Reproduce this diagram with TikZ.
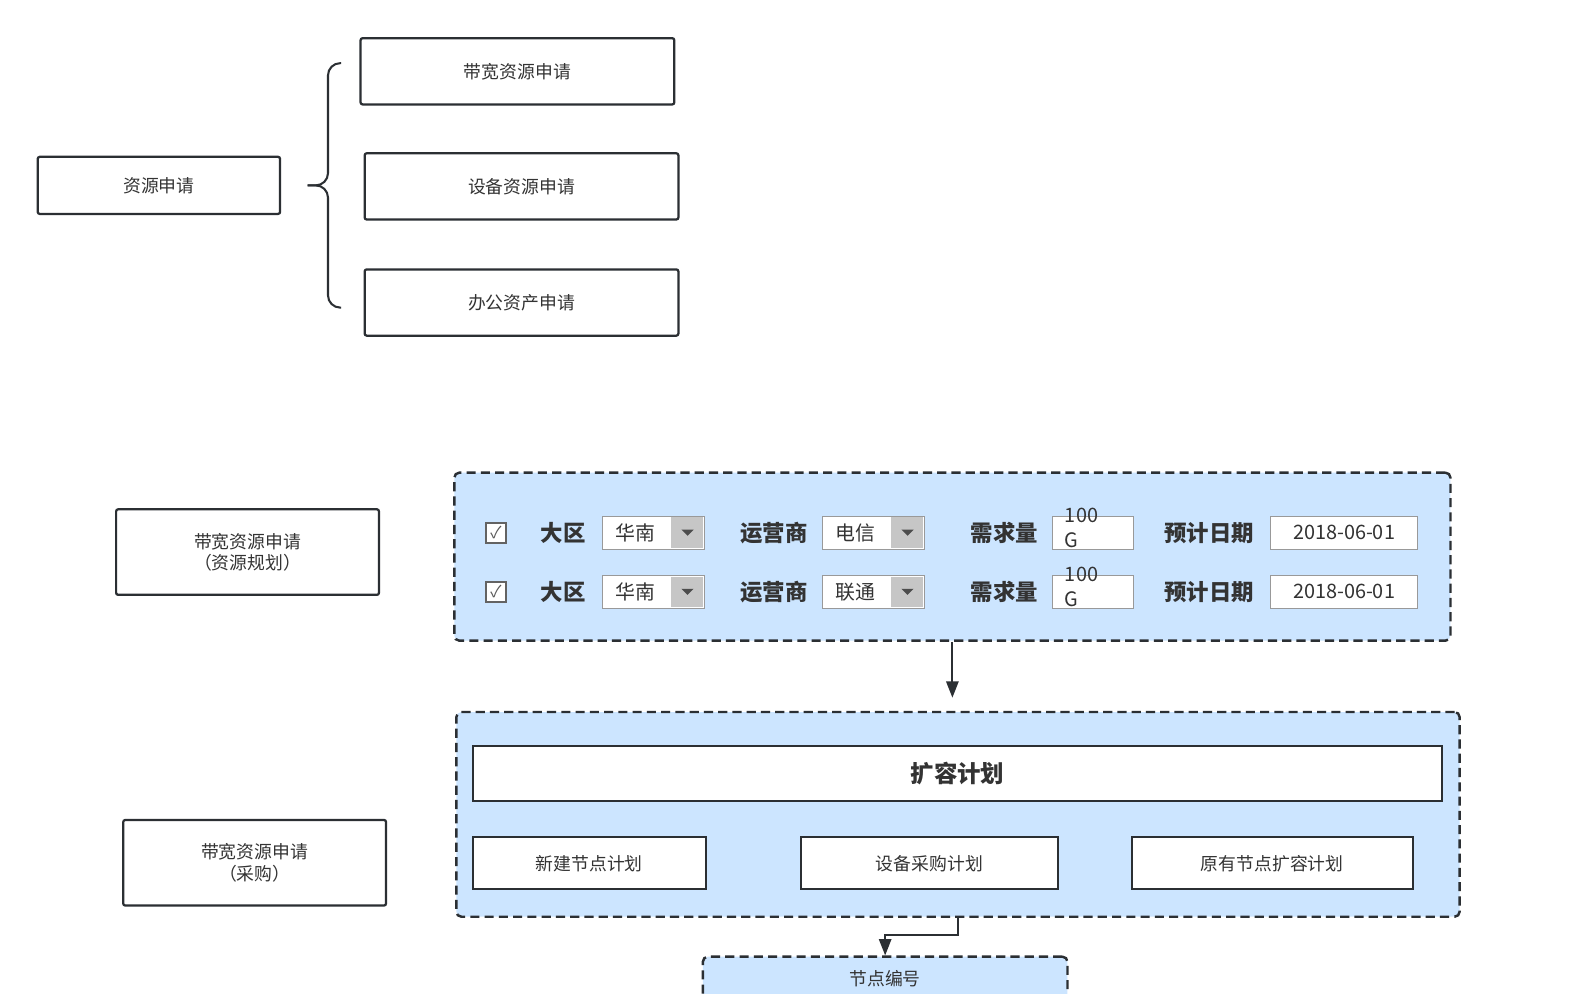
\documentclass[tikz,border=0pt]{standalone}
\usepackage{fontspec}
\setmainfont{Noto Sans CJK SC}
\usetikzlibrary{arrows.meta}
\definecolor{ln}{HTML}{2B2F33}
\definecolor{pan}{HTML}{CCE5FF}
\definecolor{tx}{HTML}{333333}
\begin{document}
\begin{tikzpicture}[x=1pt,y=-1pt,
  box/.style={draw=ln,line width=2.2pt,rounded corners=2pt,fill=white,text=tx,font=\fontsize{17.5}{21}\selectfont,align=center},
  panel/.style={draw=ln,line width=2.4pt,dashed,dash pattern=on 9pt off 5pt,rounded corners=5pt,fill=pan},
  lab/.style={font=\fontsize{22}{24}\bfseries\selectfont,text=tx},
  fld/.style={draw=gray!80,line width=1pt,fill=white,minimum height=32pt,font=\fontsize{19.5}{20}\selectfont,text=tx,inner sep=0pt},
  arr/.style={draw=ln,line width=2pt,-{Triangle[length=16pt,width=12pt]}}]
\useasboundingbox (0,0) rectangle (1560,975);
\fill[white] (0,0) rectangle (1560,975);
% top
\node[box,minimum width=238pt,minimum height=56pt] (zy) at (156,182) {资源申请};
\node[box,minimum width=308pt,minimum height=65pt] (dk) at (508,70) {带宽资源申请};
\node[box,minimum width=308pt,minimum height=65pt] (sb) at (512,183) {设备资源申请};
\node[box,minimum width=308pt,minimum height=65pt] (bg) at (512,297) {办公资产申请};
\draw[ln,line width=2pt,rounded corners=12pt] (335,62) -- (322,62) -- (322,182) -- (302,182);
\draw[ln,line width=2pt,rounded corners=12pt] (335,302) -- (322,302) -- (322,182) -- (302,182);
% left labels
\node[box,minimum width=258pt,minimum height=84pt] (l1) at (243,542) {带宽资源申请\\（资源规划）};
\node[box,minimum width=258pt,minimum height=84pt] (l2) at (250,847) {带宽资源申请\\（采购）};
% panel 1
\node[panel,minimum width=978pt,minimum height=165pt] (p1) at (935,546.5) {};
\foreach \y/\op in {523/电信,581/联通}{
  \node[draw=gray!25!black!70,line width=2pt,fill=white,minimum size=20pt,inner sep=0pt,font=\fontsize{16}{16}\selectfont,text=gray!70!black] at (487,\y) {✓};
  \node[lab] at (553,\y) {大区};
  \node[fld,minimum width=100pt,anchor=west] at (591,\y) {};
  \fill[gray!45] (659,\y-15) rectangle (690,\y+15);
  \fill[gray!60!black] (669,\y-3) -- (681,\y-3) -- (675,\y+3) -- cycle;
  \node[font=\fontsize{19.5}{20}\selectfont,text=tx] at (624,\y) {华南};
  \node[lab] at (760,\y) {运营商};
  \node[fld,minimum width=100pt,anchor=west] at (807,\y) {};
  \fill[gray!45] (875,\y-15) rectangle (906,\y+15);
  \fill[gray!60!black] (885,\y-3) -- (897,\y-3) -- (891,\y+3) -- cycle;
  \node[font=\fontsize{19.5}{20}\selectfont,text=tx] at (840,\y) {\op};
  \node[lab] at (986,\y) {需求量};
  \node[fld,minimum width=79pt,anchor=west] at (1033,\y) {};
  \node[font=\fontsize{19.5}{25}\selectfont,text=tx,align=left,anchor=north west] at (1042,\y-28) {100\\G};
  \node[lab] at (1187,\y) {预计日期};
  \node[fld,minimum width=144pt,anchor=west] at (1247,\y) {2018-06-01};
}
% panel 2
\node[panel,minimum width=985pt,minimum height=201pt] (p2) at (940.5,799.5) {};
\draw[arr] (p1.south) -- (p1.south |- 0,685);
\node[box,minimum width=952pt,minimum height=54pt,font=\fontsize{23}{24}\bfseries\selectfont,rounded corners=0pt] (kr) at (940,759) {扩容计划};
\node[box,minimum width=229pt,minimum height=51pt,rounded corners=0pt] (a1) at (578.5,847.5) {新建节点计划};
\node[box,minimum width=253pt,minimum height=51pt,rounded corners=0pt] (a2) at (912.5,847.5) {设备采购计划};
\node[box,minimum width=276pt,minimum height=51pt,rounded corners=0pt] (a3) at (1249,847.5) {原有节点扩容计划};
% bottom
\node[panel,minimum width=358pt,minimum height=70pt,anchor=north] (jd) at (869,938) {};
\node[font=\fontsize{17.5}{20}\selectfont,text=tx] at (869,961) {节点编号};
\draw[arr] (p2.south) -- ++(0,17) -| (jd.north);
\end{tikzpicture}
\end{document}
